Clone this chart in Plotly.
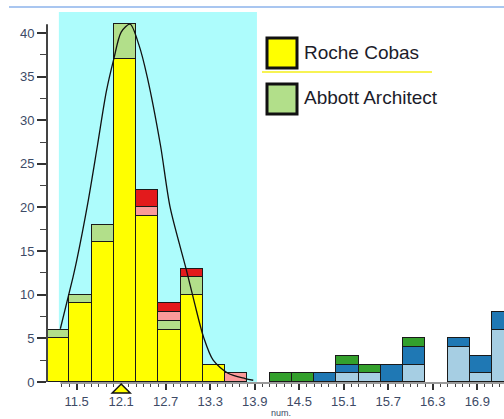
import plotly.graph_objects as go

# ---------------- data ----------------
bin_starts = [11.1, 11.4, 11.7, 12.0, 12.3, 12.6, 12.9, 13.2, 13.5, 13.8, 14.1,
              14.4, 14.7, 15.0, 15.3, 15.6, 15.9, 16.2, 16.5, 16.8, 17.1]
bin_width = 0.3

roche_cobas      = [5, 9, 16, 37, 19, 6, 10, 2, 0, 0, 0, 0, 0, 0, 0, 0, 0, 0, 0, 0, 0]
abbott_architect = [1, 1, 2, 4, 0, 1, 2, 0, 0, 0, 0, 0, 0, 0, 0, 0, 0, 0, 0, 0, 0]
series_pink      = [0, 0, 0, 0, 1, 1, 0, 0, 1, 0, 0, 0, 0, 0, 0, 0, 0, 0, 0, 0, 0]
series_red       = [0, 0, 0, 0, 2, 1, 1, 0, 0, 0, 0, 0, 0, 0, 0, 0, 0, 0, 0, 0, 0]
series_lightblue = [0, 0, 0, 0, 0, 0, 0, 0, 0, 0, 0, 0, 0, 1, 1, 0, 2, 0, 4, 1, 6]
series_darkblue  = [0, 0, 0, 0, 0, 0, 0, 0, 0, 0, 0, 0, 1, 1, 0, 2, 2, 0, 1, 2, 2]
series_green     = [0, 0, 0, 0, 0, 0, 0, 0, 0, 0, 1, 1, 0, 1, 1, 0, 1, 0, 0, 0, 0]

# fitted curve
curve_x = [11.28, 11.45, 11.50, 11.65, 11.78, 11.90, 12.00, 12.10, 12.22, 12.34,
           12.45, 12.63, 12.76, 12.98, 13.09, 13.21, 13.34, 13.54, 13.77, 13.88]
curve_y = [6.1, 12.0, 13.9, 20.5, 27.1, 33.3, 37.0, 40.1, 41.0, 38.6,
           35.0, 27.1, 20.0, 12.8, 9.0, 5.15, 2.5, 1.0, 0.4, 0.2]

mean_value = 12.1
ref_low, ref_high = 11.26, 13.93

y_tick_vals = [0, 5, 10, 15, 20, 25, 30, 35, 40]
y_minor_vals = [2.5, 7.5, 12.5, 17.5, 22.5, 27.5, 32.5, 37.5]
x_major_vals = [round(11.5 + 0.3 * i, 1) for i in range(20)]
x_minor_vals = [round(11.3 + 0.1 * i, 1) for i in range(60)]
x_label_vals = [11.5, 12.1, 12.7, 13.3, 13.9, 14.5, 15.1, 15.7, 16.3, 16.9]
x_tick_text = [f"{v:.1f}" if v in x_label_vals else "" for v in x_major_vals]

legend_labels = ["Roche Cobas", "Abbott Architect"]

# ---------------- styles ----------------
W, H = 504, 419
ML, MR, MT, MB = 47, 0, 12, 37
X_RANGE = [11.1, 17.26]
Y_RANGE = [0, 42.4]
X_AXIS_START = 11.28
FONT = "Liberation Sans, Arial, sans-serif"
TICK_COLOR = "#3d4a66"
EDGE = "#1a1a1a"

C_YELLOW = "#ffff00"
C_LGREEN = "#b2df8a"
C_PINK = "#fb9a99"
C_RED = "#e31a1c"
C_LBLUE = "#a6cee3"
C_DBLUE = "#1f78b4"
C_GREEN = "#33a02c"

PW, PH = W - ML - MR, H - MT - MB


def px(xp):
    return (xp - ML) / PW


def py(yp):
    return (H - MB - yp) / PH


centers = [round(b + bin_width / 2, 3) for b in bin_starts]


def nz(vals):
    return [v if v else None for v in vals]


fig = go.Figure()
stack = [
    (roche_cobas, C_YELLOW, "Roche Cobas"),
    (abbott_architect, C_LGREEN, "Abbott Architect"),
    (series_pink, C_PINK, "s3"),
    (series_red, C_RED, "s4"),
    (series_lightblue, C_LBLUE, "s5"),
    (series_darkblue, C_DBLUE, "s6"),
    (series_green, C_GREEN, "s7"),
]
for vals, col, name in stack:
    fig.add_trace(go.Bar(
        x=centers, y=nz(vals), width=bin_width, name=name,
        marker=dict(color=col, line=dict(color=EDGE, width=1.5)),
        showlegend=False,
    ))

fig.add_trace(go.Scatter(
    x=curve_x, y=curve_y, mode="lines",
    line=dict(color="#111111", width=1.3, shape="spline", smoothing=0.8),
    showlegend=False, hoverinfo="skip",
))

x_axis_start_paper = (X_AXIS_START - X_RANGE[0]) / (X_RANGE[1] - X_RANGE[0])

shapes = [
    # reference interval shading
    dict(type="rect", xref="x", yref="paper", x0=ref_low, x1=ref_high, y0=0, y1=1,
         fillcolor="#adfcfc", line=dict(width=0), layer="below"),
    # y axis line
    dict(type="line", xref="paper", yref="y", x0=0, x1=0, y0=0, y1=41,
         line=dict(color="#444444", width=2)),
    # x axis line (starts right of the y axis)
    dict(type="line", xref="paper", yref="paper", x0=x_axis_start_paper, x1=1,
         y0=py(383), y1=py(383), line=dict(color="#9a9a9a", width=2)),
    # mean marker (triangle under the axis, anchored at the mean value)
    dict(type="path", xref="x", xsizemode="pixel", xanchor=mean_value,
         yref="paper", ysizemode="pixel", yanchor=0,
         path="M-9,-11 L9,-11 L0,-2 Z",
         fillcolor=C_YELLOW, line=dict(color="#111111", width=1.5)),
    # top rule
    dict(type="line", xref="paper", yref="paper", x0=px(9), x1=1, y0=py(7), y1=py(7),
         line=dict(color="#a9c6f0", width=2)),
    # legend swatches
    dict(type="rect", xref="paper", yref="paper", x0=px(267), x1=px(297),
         y0=py(68), y1=py(38), fillcolor=C_YELLOW, line=dict(color="#111111", width=3)),
    dict(type="rect", xref="paper", yref="paper", x0=px(267), x1=px(297),
         y0=py(114), y1=py(84), fillcolor=C_LGREEN, line=dict(color="#111111", width=3)),
    # yellow underline
    dict(type="line", xref="paper", yref="paper", x0=px(262), x1=px(432),
         y0=py(72), y1=py(72), line=dict(color="#f4ef1a", width=1.5)),
]

annotations = [
    dict(text=legend_labels[0], xref="paper", yref="paper", x=px(302), y=py(52),
         xanchor="left", yanchor="middle", showarrow=False,
         font=dict(family=FONT, size=19, color="#1c1c2a")),
    dict(text=legend_labels[1], xref="paper", yref="paper", x=px(302), y=py(98),
         xanchor="left", yanchor="middle", showarrow=False,
         font=dict(family=FONT, size=19, color="#1c1c2a")),
    dict(text="num.", xref="paper", yref="paper", x=px(281), y=py(413),
         xanchor="center", yanchor="middle", showarrow=False,
         font=dict(family=FONT, size=9, color=TICK_COLOR)),
]

fig.update_layout(
    width=W, height=H,
    margin=dict(l=ML, r=MR, t=MT, b=MB, pad=0, autoexpand=False),
    paper_bgcolor="white", plot_bgcolor="white",
    barmode="stack", bargap=0,
    showlegend=False,
    shapes=shapes, annotations=annotations,
    font=dict(family=FONT),
    xaxis=dict(range=X_RANGE, showline=False, showgrid=False, zeroline=False,
               automargin=False,
               tickmode="array", tickvals=x_major_vals, ticktext=x_tick_text,
               ticks="outside", ticklen=7, tickwidth=1.5, tickcolor="#333333",
               tickfont=dict(family=FONT, size=13, color=TICK_COLOR),
               minor=dict(tickmode="array", tickvals=x_minor_vals, ticks="outside",
                          ticklen=4, tickwidth=1.2, tickcolor="#444444")),
    yaxis=dict(range=Y_RANGE, showline=False, showgrid=False, zeroline=False,
               automargin=False,
               tickmode="array", tickvals=y_tick_vals,
               ticks="outside", ticklen=9, tickwidth=1.5, tickcolor="#333333",
               tickfont=dict(family=FONT, size=13, color=TICK_COLOR),
               minor=dict(tickmode="array", tickvals=y_minor_vals, ticks="outside",
                          ticklen=6, tickwidth=1.2, tickcolor="#444444")),
)

fig.write_html(
    "out.html",
    config={"displayModeBar": False},
    post_script="document.body.style.margin='0';document.body.style.overflow='hidden';",
)
